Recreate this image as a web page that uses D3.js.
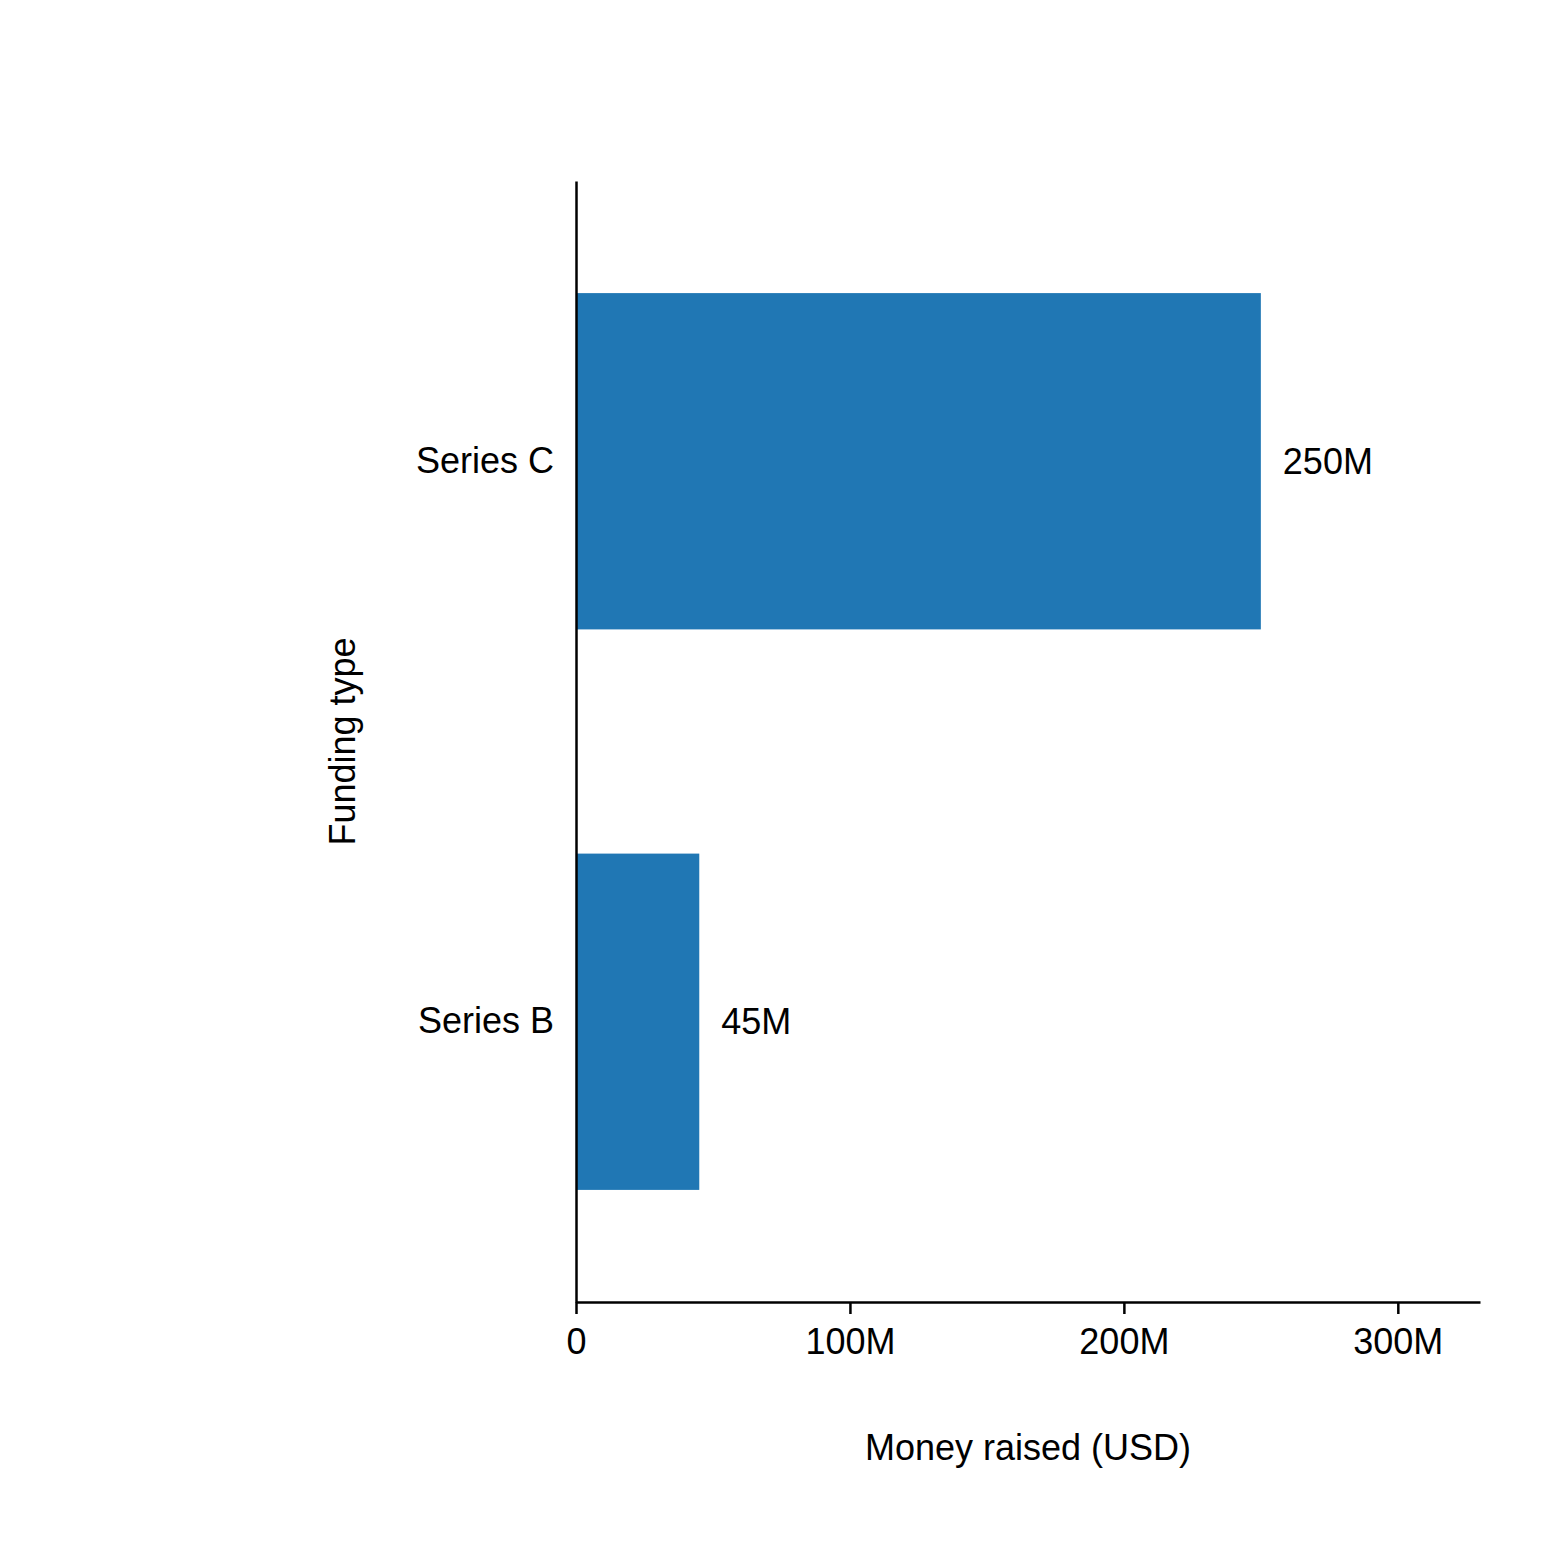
<!DOCTYPE html>
<html><head><meta charset="utf-8">
<script src="https://cdn.jsdelivr.net/npm/d3@7"></script>
<style>body{margin:0;background:#fff}svg{font-family:"Liberation Sans",Arial,sans-serif}</style>
</head><body><svg id="c" width="1560" height="1564"></svg>
<script>
const categories = ["Series C", "Series B"];
const values = [250, 45];
const valueLabels = ["250M", "45M"];
const tickValues = [0, 100, 200, 300];
const tickLabels = ["0", "100M", "200M", "300M"];

const svg = d3.select("#c");
const L = 576, R = 1480, T = 181, B = 1302;
const x = d3.scaleLinear().domain([0, 330]).range([L, R]);
const y = d3.scaleBand().domain(categories).range([T, B]).paddingInner(0.4).paddingOuter(0.2);

svg.selectAll("rect.bar").data(categories).join("rect")
  .attr("x", x(0)).attr("y", d => y(d))
  .attr("width", (d, i) => x(values[i]) - x(0))
  .attr("height", y.bandwidth()).attr("fill", "#2077b4");

svg.selectAll("text.val").data(categories).join("text")
  .attr("x", (d, i) => x(values[i]) + 22).attr("y", d => y(d) + y.bandwidth() / 2)
  .attr("dy", "0.35em").attr("font-size", 36).text((d, i) => valueLabels[i]);

const xa = svg.append("g").attr("transform", `translate(0,${B})`)
  .call(d3.axisBottom(x).tickValues(tickValues).tickFormat((d, i) => tickLabels[i]).tickSize(12).tickPadding(14).tickSizeOuter(0));
const ya = svg.append("g").attr("transform", `translate(${L},0)`)
  .call(d3.axisLeft(y).tickSize(0).tickPadding(22).tickSizeOuter(0));
[xa, ya].forEach(a => {
  a.selectAll("text").attr("font-size", 36).attr("fill", "#000").style("font-family", "'Liberation Sans',Arial,sans-serif");
  a.selectAll("path,line").attr("stroke", "#000").attr("stroke-width", 2.5);
});

svg.append("text").attr("x", (L + R) / 2).attr("y", 1460).attr("text-anchor", "middle")
  .attr("font-size", 36).text("Money raised (USD)");
svg.append("text").attr("transform", `translate(355,${(T + B) / 2}) rotate(-90)`)
  .attr("text-anchor", "middle").attr("font-size", 36).text("Funding type");
</script></body></html>
